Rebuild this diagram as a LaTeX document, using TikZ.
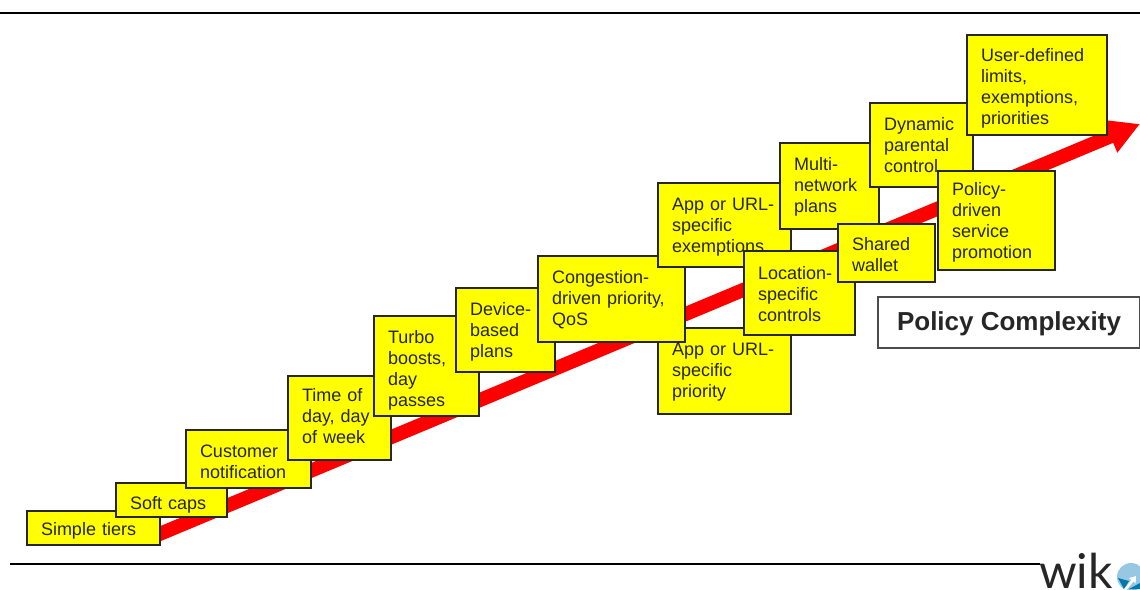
\documentclass[tikz,border=0pt]{standalone}
\usepackage{fontspec}
\setmainfont{Liberation Sans}
\newfontfamily\logofont{Lato}
\usetikzlibrary{arrows.meta}
\definecolor{boxyellow}{RGB}{255,255,0}
\definecolor{arrowred}{RGB}{255,0,0}
\definecolor{logoblue}{RGB}{150,200,228}
\definecolor{logoteal}{RGB}{0,120,170}
\tikzset{
  textdown/.style = {execute at begin node={\rule{0pt}{\dimexpr13pt+#1\relax}}},
  textup/.style = {execute at end node={\rule[-#1]{0pt}{#1}}},
  policybox/.style 2 args = {rectangle, draw=black!85, fill = boxyellow, line width=1.6pt,
                outer sep=0pt, inner xsep=14pt, inner ysep=0pt, align = left,
                text width = #1-28pt, minimum height = #2, text=black!85,
                font = \fontsize{18}{21}\selectfont},
  titlebox/.style = {rectangle, draw=black!70, fill = white, line width=1.4pt,
                outer sep=0pt, minimum width = 262pt, minimum height = 51pt, text=black!85,
                text depth=3.5pt, font = \fontsize{26}{30}\selectfont\bfseries},
  rule/.style = {black, line width=2pt},
  arr/.style  = {-{Triangle[length=32pt,width=33pt]}, arrowred, line width=14pt}
}
\begin{document}
\begin{tikzpicture}[x=1pt,y=-1pt]
    \useasboundingbox (0,0) rectangle (1140,589);
    \clip (0,0) rectangle (1140,589);
    \coordinate (rulea) at (0,13);
    \coordinate (ruleb) at (1140,13);
    \coordinate (rulec) at (10,564);
    \coordinate (ruled) at (1040,564);
    \draw[rule] (rulea)--(ruleb);
    \draw[rule] (rulec)--(ruled);
    \coordinate (arrstart) at (150,538);
    \coordinate (arrtip) at (1140,124);
    \draw[arr] (arrstart)--(arrtip);
    \node[policybox={133pt}{34pt},textdown=6pt] (tiers) at (93.5,528) {Simple tiers};
    \node[policybox={111pt}{34pt},textdown=10pt] (caps) at (171.5,500) {Soft caps};
    \node[policybox={125pt}{58pt},textdown=6pt] (notify) at (248.5,459) {Customer\\notification};
    \node[policybox={103pt}{84pt},textup=4pt] (time) at (339.5,418) {Time of\\day, day\\of week};
    \node[policybox={105pt}{100pt},textdown=8pt] (turbo) at (426.5,366) {Turbo\\boosts,\\day\\passes};
    \node[policybox={99pt}{84pt},textdown=4pt] (device) at (505.5,330) {Device-\\based\\plans};
    \node[policybox={133pt}{86pt},textdown=2pt] (priority) at (724.5,371) {App or URL-\\specific\\priority};
    \node[policybox={147pt}{86pt},textdown=2pt] (qos) at (611.5,299) {Congestion-\\driven priority,\\QoS};
    \node[policybox={133pt}{84pt},textdown=4pt] (exempt) at (724.5,225) {App or URL-\\specific\\exemptions};
    \node[policybox={111pt}{84pt},textdown=2pt] (location) at (799.5,293) {Location-\\specific\\controls};
    \node[policybox={99pt}{86pt},textdown=2pt] (multi) at (829.5,186) {Multi-\\network\\plans};
    \node[policybox={97pt}{58pt},textdown=4pt] (wallet) at (886.5,253) {Shared\\wallet};
    \node[policybox={103pt}{84pt}] (parental) at (921.5,145) {Dynamic\\parental\\control};
    \node[policybox={117pt}{99pt},textdown=4pt] (promo) at (996.5,220.5) {Policy-\\driven\\service\\promotion};
    \node[policybox={140pt}{100pt},textdown=6pt] (user) at (1037,85) {User-defined\\limits,\\exemptions,\\priorities};
    \node[titlebox] (title) at (1009,322.5) {Policy Complexity};
    \node[anchor=base,inner sep=0pt,text=black!85,font=\fontsize{48}{48}\logofont] (logo) at (1076,588) {wik};
    \fill[logoblue] (1131,577) circle (14);
    \fill[logoteal] (1118,578) -- (1129,581) -- (1124,589) -- cycle;
    \fill[logoteal] (1129,589) -- (1140,583) -- (1140,589) -- cycle;
    \draw[white,line width=2.5pt,-{Triangle[length=6pt,width=8pt]}] (1125,590) -- (1136,576);
\end{tikzpicture}
\end{document}
